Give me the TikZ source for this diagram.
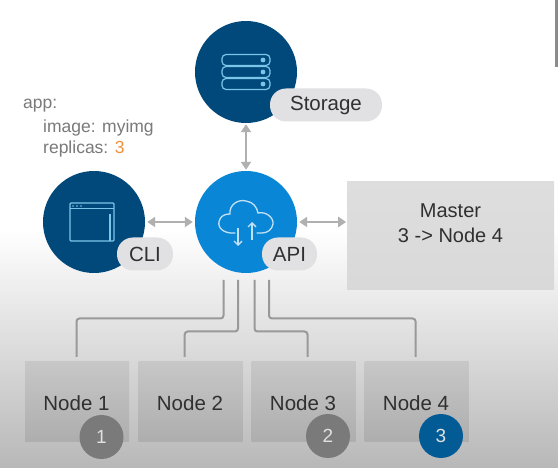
\documentclass[tikz,border=0pt]{standalone}
\usepackage{fontspec}
\setmainfont{Liberation Sans}
\usetikzlibrary{arrows.meta,calc}
\definecolor{navy}{HTML}{00497A}
\definecolor{sky}{HTML}{0A86D6}
\definecolor{pill}{HTML}{E1E1E3}
\definecolor{ink}{HTML}{303030}
\definecolor{soft}{HTML}{7A7A7A}
\definecolor{orng}{HTML}{F0923C}
\definecolor{conn}{HTML}{B0B0B0}
\definecolor{iconl}{HTML}{7CC4EA}
\tikzset{
  hub/.style={circle,inner sep=0pt,minimum size=102pt},
  tagpill/.style={rounded corners=16pt,fill=pill,minimum height=33pt,inner sep=0pt,text=ink,font=\fontsize{20.5}{24}\selectfont},
  nodebox/.style={rectangle,minimum width=104pt,minimum height=80pt,inner sep=0pt,top color=black!22,bottom color=black!32},
  nodelabel/.style={text=ink,font=\fontsize{20.5}{24}\selectfont},
  badge/.style={circle,minimum size=44pt,inner sep=0pt,text=white!88!black,font=\fontsize{19}{22}\selectfont},
  dbl/.style={draw=conn,line width=2.6pt,{Triangle[length=8pt,width=10pt]}-{Triangle[length=8pt,width=10pt]}},
  bus/.style={draw=black!40,line width=2pt,rounded corners=3pt},
  icon/.style={draw=iconl,line width=1.2pt},
  yaml/.style={text=soft,anchor=west,inner sep=0pt,font=\fontsize{17.5}{20}\selectfont}
}
\begin{document}
\begin{tikzpicture}[x=1pt,y=-1pt]
\useasboundingbox (0,0) rectangle (558,468);
\fill[white] (0,0) rectangle (558,232);
\shade[top color=white,bottom color=black!28] (0,230) rectangle (558,468);
\fill[black!45] (555,0) rectangle (558,67);

% hubs
\node[hub,fill=navy] (storage) at (246,72) {};
\node[hub,fill=navy] (cli) at (94,222) {};
\node[hub,fill=sky] (api) at (246,222) {};
\node[rectangle,minimum width=207pt,minimum height=108pt,inner sep=0pt,top color=black!13,bottom color=black!15] (master) at (450.5,236) {};
\node[text=ink,align=center,font=\fontsize{20}{25}\selectfont] (mastertext) at (450.5,223.5) {Master\\3 -> Node 4};

% connectors between hubs
\draw[dbl] ($(storage.south)+(0,1)$) -- ($(api.north)+(0,-1)$);
\draw[dbl] ($(cli.east)+(2,0)$) -- ($(api.west)+(-2,0)$);
\draw[dbl] ($(api.east)+(2,0)$) -- ($(api.east)+(49,0)$);

% pills
\node[tagpill,minimum width=112pt] (storagetag) at (326,105) {Storage};
\node[tagpill,minimum width=56pt] (clitag) at (145,254) {CLI};
\node[tagpill,minimum width=55pt] (apitag) at (289.5,254) {API};

% worker nodes
\node[nodebox] (n1) at (77,402) {};
\node[nodebox] (n2) at (190.5,402) {};
\node[nodebox] (n3) at (303.5,402) {};
\node[nodebox] (n4) at (416.5,402) {};
\node[nodelabel] (l1) at (76.5,403) {Node 1};
\node[nodelabel] (l2) at (190,403) {Node 2};
\node[nodelabel] (l3) at (303,403) {Node 3};
\node[nodelabel] (l4) at (416,403) {Node 4};
\node[badge,fill=black!52] (b1) at (101.5,437) {1};
\node[badge,fill=black!52] (b2) at (328,436) {2};
\node[badge,fill=navy!70!sky] (b3) at (441,436) {3};

% bus lines
\coordinate (t1) at (223.5,280);
\coordinate (t2) at (238,280);
\coordinate (t3) at (254.5,280);
\coordinate (t4) at (269,280);
\coordinate (e1) at (76.5,357);
\coordinate (e2) at (184.7,357);
\coordinate (e3) at (307.5,357);
\coordinate (e4) at (415.6,357);
\draw[bus] (t1) -- (223.5,318.5) -- (76.5,318.5) -- (e1);
\draw[bus] (t2) -- (238,331.5) -- (184.7,331.5) -- (e2);
\draw[bus] (t3) -- (254.5,331.5) -- (307.5,331.5) -- (e3);
\draw[bus] (t4) -- (269,318.5) -- (415.6,318.5) -- (e4);

% yaml text
\node[yaml] (y1) at (23,106) {app:};
\node[yaml] (y2) at (43,128) {image: myimg};
\node[yaml] (y3) at (43,149) {replicas: \textcolor{orng}{3}};

% storage icon
\foreach \yy in {60,72,84}{
  \draw[icon,rounded corners=4pt] (222,\yy-5.5) rectangle (270,\yy+5.5);
  \fill[iconl] (263,\yy) circle (2.4pt);
}
% window icon
\draw[icon,rounded corners=1pt] (70,203) rectangle (114,241);
\draw[icon] (70,208.5) -- (114,208.5);
\draw[icon] (110,214) -- (110,241);
\foreach \xx in {73,77,81}{\fill[iconl] (\xx,206) circle (0.9pt);}
% cloud icon
\draw[draw=white!75!sky,line width=1.3pt,line cap=round]
  (235,233) .. controls (222,234) and (216,226) .. (220,219)
  .. controls (222,215) and (226,214) .. (230,214)
  .. controls (229,204) and (239,199) .. (246,201)
  .. controls (253,202) and (257,207) .. (258,213)
  .. controls (266,211) and (274,218) .. (273,224)
  .. controls (272,230) and (267,233) .. (262,233) -- (257,233);
\draw[draw=white!75!sky,line width=1.3pt,-{Straight Barb[length=4pt,width=8pt]}] (238,228) -- (238,246);
\draw[draw=white!75!sky,line width=1.3pt,-{Straight Barb[length=4pt,width=8pt]}] (252,240) -- (252,222);
\end{tikzpicture}
\end{document}
